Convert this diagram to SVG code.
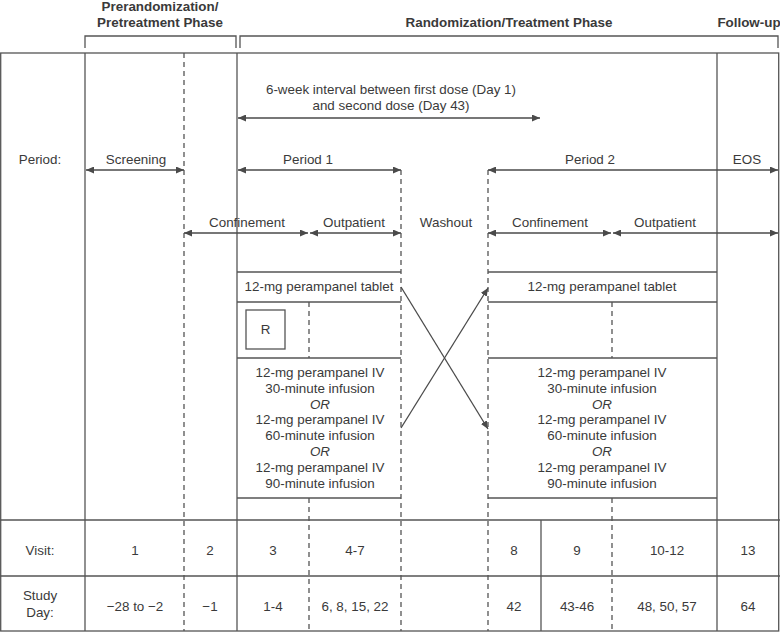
<svg xmlns="http://www.w3.org/2000/svg" width="780" height="633" viewBox="0 0 780 633">
<defs>
<marker id="ah" viewBox="0 0 8 7" refX="8" refY="3.5" markerWidth="8" markerHeight="7" markerUnits="userSpaceOnUse" orient="auto-start-reverse">
<path d="M0,0 L8,3.5 L0,7 z" fill="#4a4a4a"/>
</marker>
</defs>
<style>
.ln{stroke:#555;stroke-width:1.3;fill:none}
.ds{stroke:#555;stroke-width:1.3;fill:none;stroke-dasharray:5,4}
.ar{stroke:#4a4a4a;stroke-width:1.3;fill:none;marker-start:url(#ah);marker-end:url(#ah)}
.a1{stroke:#4a4a4a;stroke-width:1.3;fill:none;marker-end:url(#ah)}
.t{font-family:"Liberation Sans",Arial,sans-serif;font-size:13.4px;fill:#3a3a3a;text-anchor:middle}
.b{font-family:"Liberation Sans",Arial,sans-serif;font-size:13.4px;font-weight:bold;fill:#3a3a3a;text-anchor:middle}
.i{font-style:italic}
</style>
<rect width="780" height="633" fill="#fff"/>

<g id="phase-headers">
<text class="b" x="160" y="11">Prerandomization/</text>
<text class="b" x="160" y="27">Pretreatment Phase</text>
<text class="b" x="509" y="27">Randomization/Treatment Phase</text>
<text class="b" x="749" y="27">Follow-up</text>
<path class="ln" d="M85,48 V36 H236 V48"/>
<path class="ln" d="M240,48 V36 H778 V48"/>
</g>

<g id="frame">
<rect class="ln" x="0.7" y="53" width="778" height="578"/>
<line class="ln" x1="85" y1="53" x2="85" y2="631"/>
<line class="ds" x1="184" y1="53" x2="184" y2="631"/>
<line class="ln" x1="237" y1="53" x2="237" y2="631"/>
<line class="ds" x1="401" y1="170" x2="401" y2="631"/>
<line class="ds" x1="488" y1="170" x2="488" y2="631"/>
<line class="ln" x1="717" y1="53" x2="717" y2="631"/>
<line class="ln" x1="0" y1="520" x2="780" y2="520"/>
<line class="ln" x1="0" y1="576" x2="780" y2="576"/>
<line class="ds" x1="309" y1="498" x2="309" y2="631"/>
<line class="ln" x1="541" y1="520" x2="541" y2="631"/>
<line class="ds" x1="612" y1="498" x2="612" y2="631"/>
</g>

<g id="interval-label">
<text class="t" x="391" y="94">6-week interval between first dose (Day 1)</text>
<text class="t" x="391" y="110">and second dose (Day 43)</text>
</g>

<g id="period-row">
<text class="t" x="40" y="164">Period:</text>
<text class="t" x="136" y="164">Screening</text>
<text class="t" x="308" y="164">Period 1</text>
<text class="t" x="590" y="164">Period 2</text>
<text class="t" x="747" y="164">EOS</text>
</g>

<g id="setting-row">
<text class="t" x="247" y="227">Confinement</text>
<text class="t" x="354" y="227">Outpatient</text>
<text class="t" x="446" y="227">Washout</text>
<text class="t" x="550" y="227">Confinement</text>
<text class="t" x="665" y="227">Outpatient</text>
</g>

<g id="period1-treatment">
<line class="ln" x1="237" y1="272" x2="401" y2="272"/>
<line class="ln" x1="237" y1="302" x2="401" y2="302"/>
<line class="ln" x1="237" y1="358" x2="401" y2="358"/>
<line class="ln" x1="237" y1="498" x2="401" y2="498"/>
<line class="ds" x1="309" y1="302" x2="309" y2="358"/>
<text class="t" x="319" y="291">12-mg perampanel tablet</text>
<rect class="ln" x="246" y="310" width="39" height="39"/>
<text class="t" x="265.5" y="334">R</text>
<text class="t" x="320" y="377">12-mg perampanel IV</text>
<text class="t" x="320" y="393">30-minute infusion</text>
<text class="t i" x="320" y="409">OR</text>
<text class="t" x="320" y="424">12-mg perampanel IV</text>
<text class="t" x="320" y="440">60-minute infusion</text>
<text class="t i" x="320" y="456">OR</text>
<text class="t" x="320" y="472">12-mg perampanel IV</text>
<text class="t" x="320" y="488">90-minute infusion</text>
</g>

<g id="period2-treatment">
<line class="ln" x1="488" y1="272" x2="717" y2="272"/>
<line class="ln" x1="488" y1="302" x2="717" y2="302"/>
<line class="ln" x1="488" y1="358" x2="717" y2="358"/>
<line class="ln" x1="488" y1="498" x2="717" y2="498"/>
<line class="ds" x1="612" y1="302" x2="612" y2="358"/>
<text class="t" x="602" y="291">12-mg perampanel tablet</text>
<text class="t" x="602" y="377">12-mg perampanel IV</text>
<text class="t" x="602" y="393">30-minute infusion</text>
<text class="t i" x="602" y="409">OR</text>
<text class="t" x="602" y="424">12-mg perampanel IV</text>
<text class="t" x="602" y="440">60-minute infusion</text>
<text class="t i" x="602" y="456">OR</text>
<text class="t" x="602" y="472">12-mg perampanel IV</text>
<text class="t" x="602" y="488">90-minute infusion</text>
</g>

<g id="visit-row">
<text class="t" x="40" y="555">Visit:</text>
<text class="t" x="135" y="555">1</text>
<text class="t" x="210" y="555">2</text>
<text class="t" x="273" y="555">3</text>
<text class="t" x="355" y="555">4-7</text>
<text class="t" x="514" y="555">8</text>
<text class="t" x="577" y="555">9</text>
<text class="t" x="667" y="555">10-12</text>
<text class="t" x="748" y="555">13</text>
</g>

<g id="studyday-row">
<text class="t" x="40" y="600">Study</text>
<text class="t" x="40" y="617">Day:</text>
<text class="t" x="135" y="611">−28 to −2</text>
<text class="t" x="210" y="611">−1</text>
<text class="t" x="273" y="611">1-4</text>
<text class="t" x="355" y="611">6, 8, 15, 22</text>
<text class="t" x="514" y="611">42</text>
<text class="t" x="577" y="611">43-46</text>
<text class="t" x="667" y="611">48, 50, 57</text>
<text class="t" x="748" y="611">64</text>
</g>

<g id="connectors">
<line class="ar" x1="238" y1="118" x2="540" y2="118"/>
<line class="ar" x1="86" y1="170" x2="184" y2="170"/>
<line class="ar" x1="238" y1="170" x2="401" y2="170"/>
<line class="ar" x1="488" y1="170" x2="778" y2="170"/>
<line class="ar" x1="184" y1="233" x2="308" y2="233"/>
<line class="ar" x1="310" y1="233" x2="401" y2="233"/>
<line class="ar" x1="488" y1="233" x2="611" y2="233"/>
<line class="ar" x1="613" y1="233" x2="778" y2="233"/>
<line class="a1" x1="401" y1="287" x2="488" y2="429"/>
<line class="a1" x1="401" y1="428" x2="488" y2="288"/>
</g>
</svg>
